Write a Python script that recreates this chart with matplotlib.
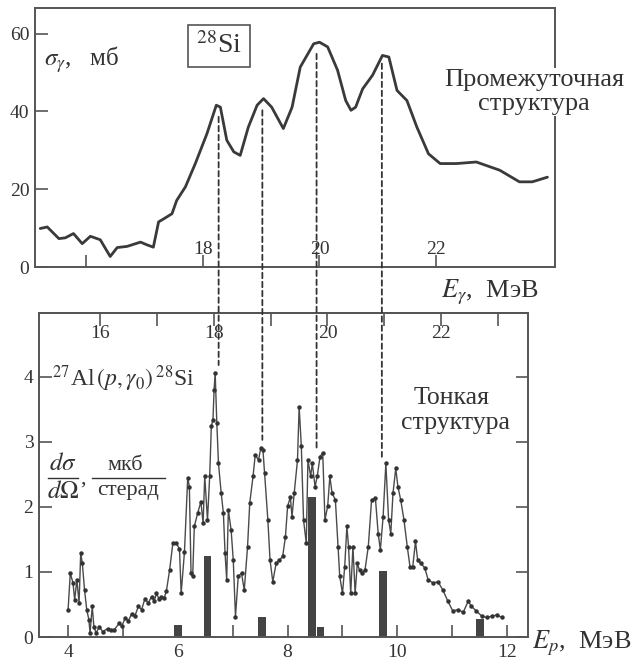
import matplotlib
matplotlib.use("Agg")
import matplotlib.pyplot as plt
from matplotlib.patches import ConnectionPatch
from matplotlib.lines import Line2D
from matplotlib.transforms import blended_transform_factory

# ---- data: intermediate structure, sigma_gamma (mb) vs E_gamma (MeV)
eg_top = [15.21, 15.33, 15.53, 15.64, 15.78, 15.93, 16.07, 16.24, 16.41, 16.53,
          16.70, 16.93, 17.04, 17.15, 17.24, 17.33, 17.47, 17.55, 17.70, 17.87,
          18.07, 18.23, 18.30, 18.41, 18.53, 18.64, 18.78, 18.93, 19.04, 19.18,
          19.38, 19.53, 19.67, 19.90, 20.00, 20.14, 20.31, 20.45, 20.54, 20.62,
          20.74, 20.91, 21.08, 21.19, 21.33, 21.50, 21.67, 21.87, 22.07, 22.35,
          22.69, 23.09, 23.43, 23.65, 23.91]
sig_top = [9.9, 10.3, 7.3, 7.5, 8.6, 6.0, 7.9, 7.0, 2.7, 5.0,
           5.3, 6.4, 5.7, 5.1, 11.6, 12.4, 13.7, 17.1, 20.6, 26.6,
           34.3, 41.6, 41.1, 32.6, 29.6, 28.7, 36.0, 41.6, 43.3, 41.1,
           35.6, 41.1, 51.4, 57.4, 57.8, 56.6, 50.6, 42.8, 40.3, 41.1,
           45.8, 49.3, 54.4, 54.0, 45.4, 42.8, 36.0, 29.1, 26.6, 26.6,
           27.0, 24.9, 21.9, 21.9, 23.1]

# ---- data: fine structure, 27Al(p,g0)28Si, dsigma/dOmega vs E_p (MeV)
ep = [4.00, 4.04, 4.09, 4.12, 4.16, 4.20, 4.23, 4.26, 4.30, 4.34,
      4.38, 4.40, 4.44, 4.47, 4.51, 4.57, 4.63, 4.72, 4.78, 4.84,
      4.93, 4.98, 5.04, 5.10, 5.16, 5.22, 5.28, 5.34, 5.40, 5.46,
      5.52, 5.57, 5.61, 5.66, 5.70, 5.75, 5.79, 5.85, 5.91, 5.97,
      6.03, 6.06, 6.12, 6.18, 6.21, 6.24, 6.27, 6.30, 6.36, 6.42,
      6.46, 6.49, 6.54, 6.58, 6.61, 6.64, 6.66, 6.68, 6.71, 6.74,
      6.79, 6.83, 6.86, 6.89, 6.92, 6.97, 7.01, 7.05, 7.10, 7.16,
      7.21, 7.27, 7.31, 7.37, 7.41, 7.47, 7.51, 7.55, 7.58, 7.64,
      7.68, 7.73, 7.79, 7.85, 7.91, 7.96, 8.00, 8.05, 8.08, 8.12,
      8.18, 8.21, 8.25, 8.29, 8.34, 8.37, 8.42, 8.45, 8.50, 8.54,
      8.59, 8.64, 8.68, 8.73, 8.77, 8.81, 8.87, 8.92, 8.95, 9.00,
      9.04, 9.08, 9.11, 9.15, 9.19, 9.23, 9.27, 9.31, 9.36, 9.41,
      9.47, 9.53, 9.60, 9.65, 9.69, 9.74, 9.79, 9.84, 9.88, 9.92,
      9.97, 10.01, 10.06, 10.12, 10.18, 10.23, 10.28, 10.33, 10.37, 10.43,
      10.50, 10.56, 10.65, 10.74, 10.83, 10.92, 11.01, 11.10, 11.20, 11.29,
      11.35, 11.44, 11.54, 11.63, 11.72, 11.81, 11.90]
dsig = [0.42, 0.98, 0.83, 0.57, 0.88, 0.52, 1.29, 1.13, 0.72, 0.42,
        0.26, 0.06, 0.47, 0.16, 0.06, 0.16, 0.08, 0.13, 0.10, 0.11,
        0.21, 0.17, 0.29, 0.25, 0.36, 0.33, 0.47, 0.42, 0.59, 0.52,
        0.62, 0.55, 0.67, 0.58, 0.62, 0.60, 0.70, 1.03, 1.45, 1.45,
        1.35, 0.67, 1.30, 2.45, 2.31, 0.98, 0.93, 1.70, 1.90, 2.08,
        1.75, 2.47, 1.80, 2.47, 3.24, 3.34, 3.80, 4.06, 3.29, 2.67,
        2.21, 1.90, 1.29, 0.88, 1.95, 1.65, 1.18, 0.31, 0.93, 0.98,
        0.72, 1.39, 2.06, 2.47, 2.80, 2.72, 2.90, 2.88, 2.52, 1.80,
        1.18, 0.85, 1.13, 1.18, 1.24, 1.54, 2.01, 2.15, 1.85, 2.21,
        2.72, 3.54, 2.93, 1.80, 1.44, 2.72, 2.47, 2.67, 2.31, 2.47,
        2.77, 2.83, 1.80, 2.01, 2.47, 2.21, 2.11, 1.39, 0.93, 0.67,
        1.08, 1.70, 1.39, 0.67, 1.39, 0.67, 1.13, 1.03, 0.98, 1.03,
        1.39, 2.11, 2.13, 1.59, 1.34, 1.85, 2.67, 1.80, 1.59, 2.21,
        2.59, 2.31, 2.11, 1.80, 1.39, 1.08, 1.08, 1.47, 1.18, 1.13,
        1.06, 0.88, 0.83, 0.85, 0.72, 0.55, 0.40, 0.42, 0.38, 0.55,
        0.47, 0.40, 0.32, 0.30, 0.32, 0.34, 0.30]

# levels (bars)
bar_ep = [6.00, 6.54, 7.53, 8.45, 8.60, 9.74, 11.50]
bar_h = [0.18, 1.25, 0.31, 2.15, 0.15, 1.02, 0.28]

# dashed correspondence lines: E_gamma position, top start, bottom end
link_eg = [18.27, 19.02, 19.95, 21.07]
link_top = [38.6, 40.3, 54.8, 52.3]
link_bot = [4.18, 3.03, 2.90, 2.77]

INK = "#333333"
FRAME = "#555555"
W, H = 635, 666


def ep_to_eg(x):
    return x * 27.0 / 28.0 + 11.585


def eg_to_ep(x):
    return (x - 11.585) * 28.0 / 27.0


def fx(x):
    return x / W


def fy(y):
    return 1 - y / H


plt.rcParams["font.family"] = ["Liberation Serif", "DejaVu Serif"]
plt.rcParams["mathtext.fontset"] = "stix"
plt.rcParams["text.color"] = INK

fig = plt.figure(figsize=(W / 100, H / 100), dpi=100)
ax1 = fig.add_axes([fx(35), fy(267), fx(555) - fx(35), fy(8) - fy(267)])
ax2 = fig.add_axes([fx(39), fy(637), fx(528) - fx(39), fy(313) - fy(637)])

for ax in (ax1, ax2):
    for s in ax.spines.values():
        s.set_color(FRAME)
        s.set_linewidth(1.4)

# ---- top panel
ax1.plot(eg_top, sig_top, color="#3a3a3a", lw=2.0, solid_capstyle="round",
         solid_joinstyle="round")
ax1.set_xlim(15.12, 24.04)
ax1.set_ylim(0, 66.6)
ax1.set_yticks([0, 20, 40, 60])
ax1.set_xticks([16, 18, 20, 22])
ax1.set_xticklabels(["", "18", "20", "22"])
ax1.tick_params(axis="y", direction="in", length=9, width=1.2, color=FRAME,
                labelsize=14, labelcolor=INK, pad=4)
ax1.tick_params(axis="x", direction="in", length=9, width=1.2, color=FRAME,
                labelsize=14, labelcolor=INK, pad=-19)

fig.text(fx(44), fy(60), r"$\sigma_\gamma$,   мб", fontsize=18, va="center")
fig.text(fx(219), fy(46), r"$^{28}$Si", fontsize=20, ha="center", va="center",
         bbox=dict(boxstyle="square,pad=0.28", fc="white", ec=FRAME, lw=1.2))
fig.text(fx(534), fy(80), "Промежуточная", fontsize=19, ha="center",
         va="center", bbox=dict(fc="white", ec="none", pad=0.5))
fig.text(fx(534), fy(104), "структура", fontsize=19, ha="center",
         va="center", bbox=dict(fc="white", ec="none", pad=0.5))
fig.text(fx(441), fy(292), r"$E_\gamma$,  МэВ", fontsize=19, va="center")

# ---- bottom panel
ax2.bar(bar_ep, bar_h, width=0.14, color="#444444", zorder=2)
ax2.plot(ep, dsig, color="#4a4a4a", lw=1.0, marker="o", ms=2.2,
         mec="#333333", mfc="#333333", zorder=3)
ax2.set_xlim(3.47, 12.38)
ax2.set_ylim(0, 4.98)
ax2.set_xticks([4, 6, 8, 10, 12])
ax2.set_xticks([5, 7, 9, 11], minor=True)
ax2.set_yticks([0, 1, 2, 3, 4])
ax2.tick_params(axis="x", which="both", direction="in", length=9, width=1.2,
                color=FRAME, labelsize=14, labelcolor=INK, pad=5)
ax2.tick_params(axis="y", direction="in", length=9, width=1.2, color=FRAME,
                labelsize=14, labelcolor=INK, pad=4, right=True)

sec = ax2.secondary_xaxis("top", functions=(ep_to_eg, eg_to_ep))
sec.set_xticks([16, 18, 20, 22])
sec.set_xticks([17, 19, 21, 23], minor=True)
sec.tick_params(axis="x", which="both", direction="in", length=9, width=1.2,
                color=FRAME, labelsize=14, labelcolor=INK, pad=-21)
sec.spines["top"].set_color(FRAME)
sec.spines["top"].set_linewidth(1.4)

fig.text(fx(52), fy(379), r"$^{27}$Al$\,(p,\gamma_0)\,^{28}$Si", fontsize=17,
         va="center")
# d sigma / d Omega , mkb / sterad
fig.text(fx(63), fy(464), r"$d\sigma$", fontsize=18, ha="center",
         va="center")
fig.text(fx(63), fy(492), r"$d\Omega$", fontsize=18, ha="center",
         va="center")
fig.add_artist(Line2D([fx(48), fx(78)], [fy(478), fy(478)], color=INK,
                      lw=1.0))
fig.text(fx(80), fy(479), ",", fontsize=16, ha="left", va="center")
fig.text(fx(125), fy(465), "мкб", fontsize=16, ha="center", va="center")
fig.text(fx(128), fy(491), "стерад", fontsize=16, ha="center", va="center")
fig.add_artist(Line2D([fx(92), fx(165)], [fy(478), fy(478)], color=INK,
                      lw=1.0))

fig.text(fx(452), fy(398), "Тонкая", fontsize=18.5, ha="center", va="center")
fig.text(fx(456), fy(423), "структура", fontsize=18.5, ha="center",
         va="center")
fig.text(fx(532), fy(643), r"$E_p$,  МэВ", fontsize=19, va="center")

# ---- dashed lines linking the two panels
link_tr = blended_transform_factory(ax1.transData, ax2.transData)
for xg, yt, yb in zip(link_eg, link_top, link_bot):
    con = ConnectionPatch(xyA=(xg, yt), coordsA=ax1.transData,
                          xyB=(xg, yb), coordsB=link_tr,
                          color="#333333", lw=1.3, linestyle=(0, (3, 2)))
    fig.add_artist(con)

fig.savefig("out.png", dpi=100)
